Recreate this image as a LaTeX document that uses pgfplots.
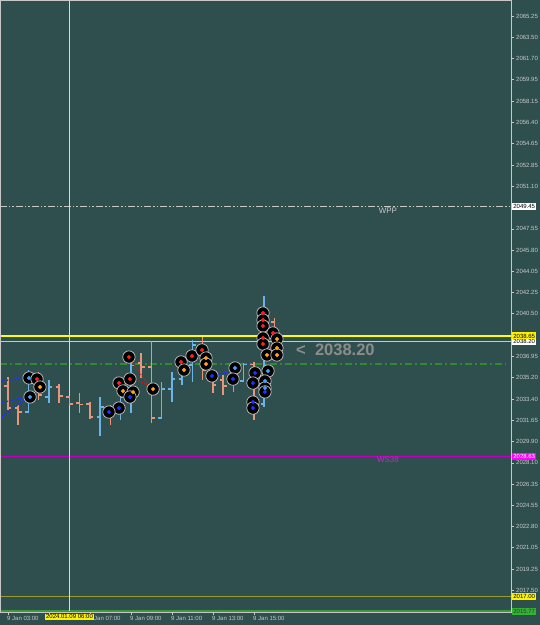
\documentclass[border=0pt]{standalone}
\usepackage{pgfplots}
\pgfplotsset{compat=1.18}
\usepackage{pgfplotstable}
\usepackage{fontspec}
\setmainfont{Liberation Sans}
\definecolor{bg}{HTML}{2F4F4F}
\definecolor{frame}{HTML}{C8C8C8}
\definecolor{lbl}{HTML}{C8C8C8}
\definecolor{bullc}{HTML}{6AB4E6}
\definecolor{bearc}{HTML}{E6967A}
\definecolor{crossyel}{RGB}{255,255,0}
\definecolor{mag}{HTML}{C000C0}
\definecolor{magtxt}{HTML}{D020D0}
\definecolor{magbox}{HTML}{FF00FF}
\definecolor{olive2}{HTML}{9A9A30}
\definecolor{grn}{HTML}{2E8B2E}
\definecolor{grn2}{HTML}{3C9A3C}
\definecolor{grnbox}{HTML}{32B432}
\definecolor{mred}{HTML}{FF2020}
\definecolor{mora}{HTML}{FFA020}
\definecolor{mblu}{HTML}{2030FF}
\definecolor{mlbl}{HTML}{40A0FF}
\definecolor{bigtxt}{HTML}{8C8C8C}

\pgfdeclareplotmark{otick}{\pgfpathmoveto{\pgfqpoint{-3.5pt}{0pt}}\pgfpathlineto{\pgfqpoint{0pt}{0pt}}\pgfusepathqstroke}
\pgfdeclareplotmark{ctick}{\pgfpathmoveto{\pgfqpoint{0pt}{0pt}}\pgfpathlineto{\pgfqpoint{3.5pt}{0pt}}\pgfusepathqstroke}

% half-hour bars: i=0 is 9 Jan 03:00
\pgfplotstableread{
i o h l c
2 2032.33 2035.82 2032.25 2035.16
4 2033.58 2034.99 2033.08 2034.41
9 2031.92 2033.58 2030.34 2032.75
11 2032.50 2034.16 2031.67 2033.58
12 2033.58 2036.82 2032.25 2036.20
15 2031.83 2034.83 2031.75 2034.24
16 2034.24 2035.66 2033.16 2035.07
17 2035.07 2036.66 2034.58 2036.24
18 2036.24 2038.32 2034.83 2037.90
22 2034.99 2036.41 2033.99 2036.24
23 2034.90 2036.41 2034.83 2036.30
25 2033.00 2041.97 2032.75 2039.80
}\bull

\pgfplotstableread{
i o h l c
-1 2034.70 2035.00 2033.30 2034.41
0 2034.49 2035.24 2032.50 2032.66
1 2032.66 2032.91 2031.25 2032.33
3 2035.16 2035.66 2033.33 2033.75
5 2034.41 2034.66 2033.08 2033.66
6 2033.58 2033.66 2032.91 2033.00
7 2033.08 2033.91 2032.25 2032.95
8 2033.00 2033.16 2031.75 2031.92
10 2032.75 2032.91 2031.25 2032.33
13 2036.41 2037.24 2035.16 2036.07
14 2036.07 2038.23 2031.42 2031.83
19 2037.90 2038.57 2034.99 2035.80
20 2035.32 2035.41 2033.91 2034.58
21 2035.00 2035.41 2033.75 2034.50
24 2036.30 2036.49 2031.67 2033.00
26 2039.80 2040.15 2036.74 2038.20
}\bear

\pgfplotstableread{
x y t
2.05 2035.16 L
2.83 2035.07 R
3.12 2034.41 O
2.15 2033.58 L
11.80 2036.90 R
10.83 2034.74 R
11.90 2035.07 R
11.22 2034.08 O
12.20 2033.99 O
11.90 2033.58 B
10.83 2032.66 B
9.85 2032.33 B
14.15 2034.24 O
16.88 2036.49 R
17.17 2035.82 O
17.95 2036.99 R
18.93 2037.49 R
19.32 2036.82 O
19.32 2036.32 O
19.90 2035.33 B
22.15 2035.99 L
21.95 2035.07 B
24.88 2040.56 R
24.88 2039.98 R
24.88 2039.48 R
25.85 2038.90 R
24.88 2038.48 R
24.88 2037.98 R
26.24 2038.40 O
26.24 2037.65 O
25.27 2037.07 O
26.24 2037.07 O
25.37 2035.74 L
24.10 2035.58 B
23.90 2034.74 B
25.07 2034.91 L
25.07 2034.33 L
25.07 2034.00 B
23.90 2033.16 B
23.90 2032.66 B
}\marks

\begin{document}
\begin{tikzpicture}[x=1pt,y=1pt]
\path[use as bounding box] (0,0) rectangle (540,625);
\fill[bg] (0,0) rectangle (540,625);
\begin{axis}[
  at={(0pt,13pt)}, anchor=south west,
  scale only axis, width=511pt, height=612pt,
  xmin=-0.7805, xmax=49.0732, ymin=2015.707, ymax=2066.58,
  axis on top,
  axis line style={frame, line width=0.8pt},
  tick style={frame, line width=0.6pt},
  tick align=outside, major tick length=3pt,
  ytick pos=right, xtick pos=bottom,
  ytick={2065.25,2063.50,2061.70,2059.95,2058.15,2056.40,2054.65,2052.85,2051.10,2047.55,2045.80,2044.05,2042.25,2040.50,2036.95,2035.20,2033.40,2031.65,2029.90,2028.10,2026.35,2024.55,2022.80,2021.05,2019.25,2017.50},
  yticklabel style={anchor=west, text=lbl, font=\fontsize{6}{7}\selectfont, inner sep=0pt, xshift=2pt},
  /pgf/number format/.cd, fixed, fixed zerofill, precision=2, 1000 sep={}, assume math mode=true,
  /pgfplots/.cd,
  scaled y ticks=false,
  xtick={0,4,8,12,16,20,24},
  xticklabels={9 Jan 03:00,{},9 Jan 07:00,9 Jan 09:00,9 Jan 11:00,9 Jan 13:00,9 Jan 15:00},
  xticklabel style={anchor=north west, text=lbl, font=\fontsize{6}{7}\selectfont, inner sep=0pt, yshift=-1.5pt, xshift=-1pt},
]
% level lines
\addplot[color=frame, line width=0.8pt, dash pattern=on 7pt off 2pt on 1.5pt off 2pt on 1.5pt off 2pt] coordinates {(-0.7805,2049.45) (49.0732,2049.45)};
\addplot[color=grn, line width=1.1pt, dash pattern=on 7pt off 3pt on 2pt off 3pt] coordinates {(-0.7805,2036.32) (48.5,2036.32)};
\addplot[color=mag, line width=0.7pt] coordinates {(-0.7805,2028.63) (49.0732,2028.63)};
\addplot[color=olive2, line width=1.8pt] coordinates {(-0.7805,2017.00) (49.0732,2017.00)};
\addplot[color=grn2, line width=1.8pt] coordinates {(-0.7805,2015.77) (49.0732,2015.77)};
\addplot[color=frame, line width=0.9pt] coordinates {(-0.7805,2038.20) (49.0732,2038.20)};
\addplot[draw=crossyel, line width=1.2pt] coordinates {(-0.7805,2038.65) (49.0732,2038.65)};
\addplot[draw=yellow, line width=1.8pt] coordinates {(6,2015.8) (6,2066.5)};
% bars
\addplot[only marks, mark=ctick, mark options={bullc, line width=1.5pt},
  error bars/.cd, y dir=both, y explicit, error mark=none,
  error bar style={bullc, line width=1.5pt}]
  table[x=i, y=c, y error plus expr=\thisrow{h}-\thisrow{c}, y error minus expr=\thisrow{c}-\thisrow{l}] {\bull};
\addplot[only marks, mark=otick, mark options={bullc, line width=1.5pt}] table[x=i, y=o] {\bull};
\addplot[only marks, mark=ctick, mark options={bearc, line width=1.5pt},
  error bars/.cd, y dir=both, y explicit, error mark=none,
  error bar style={bearc, line width=1.5pt}]
  table[x=i, y=c, y error plus expr=\thisrow{h}-\thisrow{c}, y error minus expr=\thisrow{c}-\thisrow{l}] {\bear};
\addplot[only marks, mark=otick, mark options={bearc, line width=1.5pt}] table[x=i, y=o] {\bear};
% dotted trade links
\addplot[mblu, line width=1.3pt, densely dotted] coordinates {(-0.78,2034.91) (1.85,2035.16)};
\addplot[mblu, line width=1.3pt, densely dotted] coordinates {(-0.78,2033.08) (1.85,2033.58)};
\addplot[mblu, line width=1.3pt, densely dotted] coordinates {(-0.78,2031.83) (1.85,2033.49)};
\addplot[mblu, line width=1.1pt, densely dotted] coordinates {(9.85,2032.33) (10.83,2032.66) (11.9,2033.58)};
\addplot[mblu, line width=1.1pt, densely dotted] coordinates {(19.9,2035.33) (21.85,2035.74)};
\addplot[mblu, line width=1.1pt, densely dotted] coordinates {(23.9,2033.16) (25.07,2034.0)};
\addplot[mred!80!black, line width=1.1pt, densely dotted] coordinates {(12.1,2036.49) (13.85,2034.41)};
\addplot[mred!80!black, line width=1.1pt, densely dotted] coordinates {(12.39,2035.16) (13.85,2034.41)};
\addplot[mred!80!black, line width=1.1pt, densely dotted] coordinates {(24.88,2038.48) (26.24,2037.07)};
% trade markers
\addplot[only marks, mark=*, mark size=6.2pt, mark options={fill=black, draw=frame, line width=0.7pt}] table[x=x, y=y] {\marks};
\addplot[scatter, only marks, scatter src=explicit symbolic,
  scatter/classes={R={mark=*, mred, mark size=1.8pt}, O={mark=*, mora, mark size=1.8pt}, B={mark=*, mblu, mark size=1.8pt}, L={mark=*, mlbl, mark size=1.8pt}}]
  table[x=x, y=y, meta=t] {\marks};
% texts
\node[text=frame, font=\fontsize{8}{9}\selectfont] at (axis cs:37.07,2049.04) {WPP};
\node[text=magtxt, font=\fontsize{8}{9}\selectfont] at (axis cs:37.07,2028.34) {WS38};
\node[anchor=west, text=bigtxt, font=\bfseries\fontsize{16.5}{18}\selectfont, inner sep=0pt] at (axis cs:28.1,2037.49) {<\ \ 2038.20};
% anchors for axis labels
\coordinate (P1) at (axis cs:49.0732,2049.45);
\coordinate (P2) at (axis cs:49.0732,2038.65);
\coordinate (P3) at (axis cs:49.0732,2038.20);
\coordinate (P4) at (axis cs:49.0732,2028.63);
\coordinate (P5) at (axis cs:49.0732,2017.00);
\coordinate (P6) at (axis cs:49.0732,2015.77);
\coordinate (XH) at (axis cs:6,2015.707);
\end{axis}
\tikzset{pbox/.style={anchor=west, inner xsep=1.2pt, inner ysep=0.6pt, font=\fontsize{6}{6.5}\selectfont, text=black, minimum height=7pt}}
\node[pbox, fill=white] at ([xshift=1pt]P1) {2049.45};
\node[pbox, fill=white] at ([xshift=1pt]P3) {2038.20};
\node[pbox, fill=yellow] at ([xshift=1pt]P2) {2038.65};
\node[pbox, fill=magbox, text=white] at ([xshift=1pt]P4) {2028.63};
\node[pbox, fill=yellow] at ([xshift=1pt]P5) {2017.00};
\node[pbox, fill=grnbox, text=black!80] at ([xshift=1pt]P6) {2015.77};
\node[fill=yellow, text=black, font=\fontsize{6}{6.5}\selectfont, inner xsep=1.5pt, inner ysep=1pt, anchor=north] at ([yshift=-1.5pt]XH) {2024.01.09 06:00};
\end{tikzpicture}
\end{document}
